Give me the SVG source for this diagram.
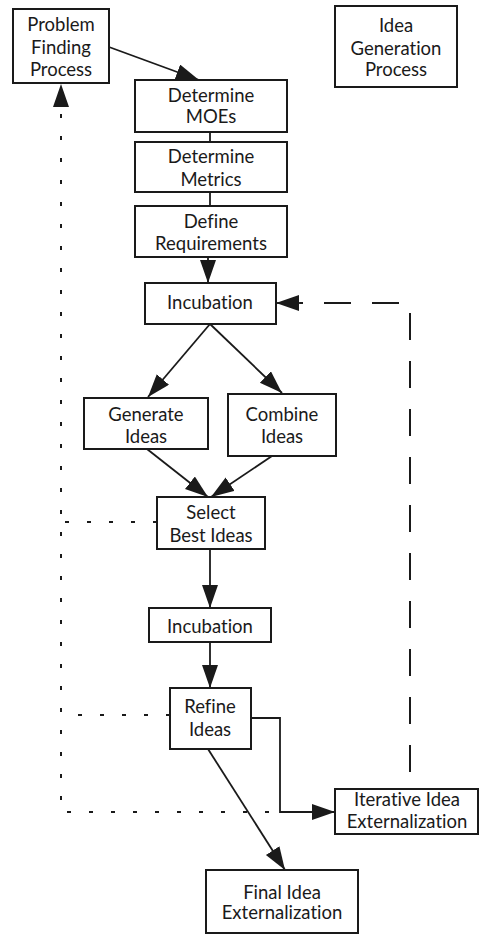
<svg xmlns="http://www.w3.org/2000/svg" width="479" height="934" viewBox="0 0 479 934">
  <style>
    .box { fill: #fff; stroke: #1a1a1a; stroke-width: 2; }
    .lbl { font-family: Lato, "Open Sans", sans-serif; font-size: 18.5px; fill: #1a1a1a; text-anchor: middle; font-variant-ligatures: none; }
    .flow { fill: none; stroke: #1a1a1a; stroke-width: 1.8; }
    .dot { fill: none; stroke: #1a1a1a; stroke-width: 2; stroke-dasharray: 4 18; }
    .dash { fill: none; stroke: #1a1a1a; stroke-width: 2; stroke-dasharray: 27 21; }
  </style>
  <defs>
    <marker id="ah" markerUnits="userSpaceOnUse" markerWidth="24" markerHeight="18" refX="23" refY="8" orient="auto">
      <path d="M0,0 L23,8 L0,16 Z" fill="#1a1a1a"/>
    </marker>
  </defs>
  <rect width="479" height="934" fill="#fff"/>

  <g id="connectors">
    <!-- main flow -->
    <line class="flow" x1="109" y1="47" x2="199" y2="80" marker-end="url(#ah)"/>
    <line class="flow" x1="210" y1="132" x2="210" y2="142"/>
    <line class="flow" x1="210" y1="192" x2="210" y2="206"/>
    <line class="flow" x1="208" y1="257" x2="208" y2="283" marker-end="url(#ah)"/>
    <line class="flow" x1="210" y1="324" x2="148" y2="397" marker-end="url(#ah)"/>
    <line class="flow" x1="210" y1="324" x2="282" y2="393" marker-end="url(#ah)"/>
    <line class="flow" x1="147" y1="449" x2="208" y2="497" marker-end="url(#ah)"/>
    <line class="flow" x1="272" y1="456" x2="211" y2="497" marker-end="url(#ah)"/>
    <line class="flow" x1="210" y1="549" x2="210" y2="608" marker-end="url(#ah)"/>
    <line class="flow" x1="210" y1="642" x2="210" y2="688" marker-end="url(#ah)"/>
    <polyline class="flow" points="251,718 280,718 280,812 335,812" marker-end="url(#ah)"/>
    <line class="flow" x1="208" y1="749" x2="285" y2="870" marker-end="url(#ah)"/>
    <!-- iteration loop back to incubation -->
    <polyline class="dash" points="410,772 410,303 300,303"/>
    <line class="flow" x1="300" y1="303" x2="276" y2="303" stroke-width="2" marker-end="url(#ah)"/>
    <!-- feedback to problem finding -->
    <polyline class="dot" points="335,812 61,812 61,108"/>
    <line class="dot" x1="157" y1="522" x2="61" y2="522"/>
    <line class="dot" x1="170" y1="715" x2="61" y2="715"/>
    <path d="M53,107 L61,84 L69,107 Z" fill="#1a1a1a"/>
  </g>

  <g id="problem-finding">
    <rect class="box" x="13" y="9" width="96" height="74"/>
    <text class="lbl" x="61" y="31">Problem</text>
    <text class="lbl" x="61" y="54">Finding</text>
    <text class="lbl" x="61" y="76">Process</text>
  </g>
  <g id="idea-generation">
    <rect class="box" x="335" y="6" width="122" height="81"/>
    <text class="lbl" x="396" y="32">Idea</text>
    <text class="lbl" x="396" y="55">Generation</text>
    <text class="lbl" x="396" y="76">Process</text>
  </g>
  <g id="determine-moes">
    <rect class="box" x="135" y="80" width="152" height="52"/>
    <text class="lbl" x="211" y="102">Determine</text>
    <text class="lbl" x="211" y="123">MOEs</text>
  </g>
  <g id="determine-metrics">
    <rect class="box" x="135" y="142" width="152" height="50"/>
    <text class="lbl" x="211" y="163">Determine</text>
    <text class="lbl" x="211" y="186">Metrics</text>
  </g>
  <g id="define-requirements">
    <rect class="box" x="135" y="206" width="152" height="51"/>
    <text class="lbl" x="211" y="228">Define</text>
    <text class="lbl" x="211" y="250">Requirements</text>
  </g>
  <g id="incubation-1">
    <rect class="box" x="145" y="283" width="131" height="41"/>
    <text class="lbl" x="210" y="309">Incubation</text>
  </g>
  <g id="generate-ideas">
    <rect class="box" x="84" y="398" width="124" height="51"/>
    <text class="lbl" x="146" y="421">Generate</text>
    <text class="lbl" x="146" y="443">Ideas</text>
  </g>
  <g id="combine-ideas">
    <rect class="box" x="228" y="394" width="108" height="62"/>
    <text class="lbl" x="282" y="421">Combine</text>
    <text class="lbl" x="282" y="443">Ideas</text>
  </g>
  <g id="select-best-ideas">
    <rect class="box" x="157" y="497" width="108" height="52"/>
    <text class="lbl" x="211" y="519">Select</text>
    <text class="lbl" x="211" y="542">Best Ideas</text>
  </g>
  <g id="incubation-2">
    <rect class="box" x="149" y="608" width="122" height="34"/>
    <text class="lbl" x="210" y="633">Incubation</text>
  </g>
  <g id="refine-ideas">
    <rect class="box" x="170" y="688" width="81" height="61"/>
    <text class="lbl" x="210" y="713">Refine</text>
    <text class="lbl" x="210" y="736">Ideas</text>
  </g>
  <g id="iterative-externalization">
    <rect class="box" x="335" y="789" width="143" height="45"/>
    <text class="lbl" x="407" y="806">Iterative Idea</text>
    <text class="lbl" x="407" y="828">Externalization</text>
  </g>
  <g id="final-externalization">
    <rect class="box" x="206" y="870" width="152" height="63"/>
    <text class="lbl" x="282" y="899">Final Idea</text>
    <text class="lbl" x="282" y="919">Externalization</text>
  </g>
</svg>
